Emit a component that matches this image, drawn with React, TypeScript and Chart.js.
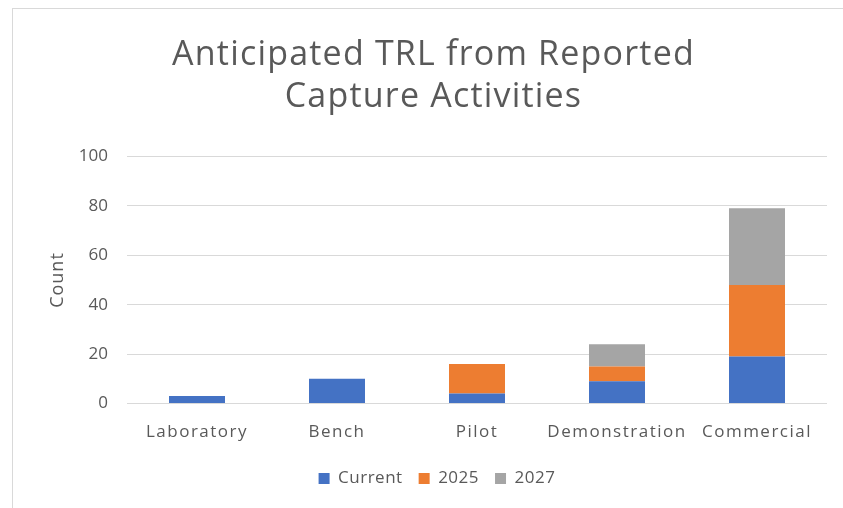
import React, { useEffect, useRef } from "react";
import { Chart, registerables } from "chart.js";

Chart.register(...registerables);

const categories = ["Laboratory", "Bench", "Pilot", "Demonstration", "Commercial"];
const seriesNames = ["Current", "2025", "2027"];
const currentValues = [3, 10, 4, 9, 19];
const values2025 = [0, 0, 12, 6, 29];
const values2027 = [0, 0, 0, 9, 31];
const yTickValues = [0, 20, 40, 60, 80, 100];
const titleLines = ["Anticipated TRL from Reported", "Capture Activities"];
const yAxisTitle = "Count";

const FONT = "'Open Sans', 'Noto Sans', sans-serif";
const TEXT = "#595959";

function wrapSpacing(obj: any, method: string, spacing: string, dx = 0) {
  const orig = obj[method];
  obj[method] = function (...args: any[]) {
    const ctx = this.ctx as any;
    const prev = ctx.letterSpacing;
    ctx.save();
    ctx.letterSpacing = spacing;
    if (dx) ctx.translate(dx, 0);
    try {
      return orig.apply(this, args);
    } finally {
      ctx.restore();
      ctx.letterSpacing = prev;
    }
  };
}

export default function App() {
  const ref = useRef<HTMLCanvasElement>(null);

  useEffect(() => {
    const canvas = ref.current!;
    const chart = new Chart(canvas, {
      type: "bar",
      data: {
        labels: categories,
        datasets: [
          { label: seriesNames[0], data: currentValues, backgroundColor: "#4472C4" },
          { label: seriesNames[1], data: values2025, backgroundColor: "#ED7D31" },
          { label: seriesNames[2], data: values2027, backgroundColor: "#A5A5A5" },
        ],
      },
      options: {
        responsive: false,
        animation: false,
        devicePixelRatio: 1,
        layout: { padding: { left: 0, right: 16, top: 0, bottom: 11 } },
        datasets: { bar: { barPercentage: 0.4, categoryPercentage: 1, borderWidth: 0 } },
        plugins: {
          title: {
            display: true,
            text: titleLines,
            color: TEXT,
            font: { family: FONT, size: 34, weight: "normal", lineHeight: 42 / 34 },
            padding: { top: 34, bottom: 38.5 },
          },
          legend: {
            position: "bottom",
            labels: {
              boxWidth: 11,
              boxHeight: 11,
              padding: 16,
              color: TEXT,
              font: { family: FONT, size: 17 },
            },
          },
          tooltip: { enabled: false },
        },
        scales: {
          x: {
            stacked: true,
            grid: { display: false, drawTicks: false },
            border: { display: false },
            ticks: {
              color: TEXT,
              font: { family: FONT, size: 17 },
              padding: 18,
              maxRotation: 0,
              autoSkip: false,
            },
            afterFit: (s: any) => {
              s.height = 50.5;
            },
          },
          y: {
            stacked: true,
            min: 0,
            max: 100,
            ticks: { stepSize: 20, color: TEXT, font: { family: FONT, size: 17 }, padding: 19 },
            afterBuildTicks: (s: any) => {
              s.ticks = yTickValues.map((v) => ({ value: v }));
            },
            grid: { color: "#d9d9d9", lineWidth: 1, drawTicks: false },
            border: { display: false },
            title: {
              display: true,
              text: yAxisTitle,
              color: TEXT,
              font: { family: FONT, size: 18 },
              padding: { top: 47, bottom: 0 },
            },
            afterFit: (s: any) => {
              s.width = 127;
            },
          },
        },
      },
    } as any);

    const c: any = chart;
    if (c.titleBlock) wrapSpacing(c.titleBlock, "draw", "1.2px", 20);
    if (c.legend) {
      wrapSpacing(c.legend, "fit", "0.5px");
      wrapSpacing(c.legend, "draw", "0.5px", 23.5);
    }
    wrapSpacing(c.scales.x, "drawLabels", "1.5px");
    wrapSpacing(c.scales.y, "drawTitle", "1px");
    chart.update();

    return () => chart.destroy();
  }, []);

  return (
    <div style={{ position: "relative", width: 843, height: 508, overflow: "hidden", background: "#fff" }}>
      <style>{`body{margin:0;overflow:hidden;background:#fff}`}</style>
      <div
        style={{
          position: "absolute",
          left: 12,
          top: 8,
          width: 900,
          height: 600,
          borderLeft: "1px solid #d9d9d9",
          borderTop: "1px solid #d9d9d9",
        }}
      />
      <canvas ref={ref} width={843} height={508} style={{ position: "absolute", left: 0, top: 0 }} />
    </div>
  );
}
